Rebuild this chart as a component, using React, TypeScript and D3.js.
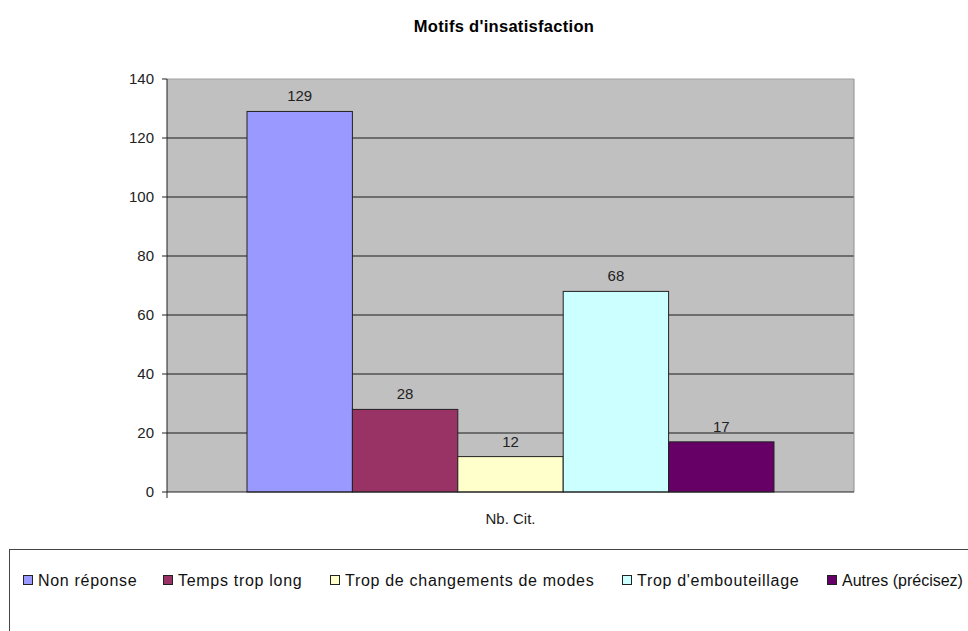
import React from "react";
import * as d3 from "d3";

const title = "Motifs d'insatisfaction";
const categoryLabel = "Nb. Cit.";
const seriesNames = [
  "Non réponse",
  "Temps trop long",
  "Trop de changements de modes",
  "Trop d'embouteillage",
  "Autres (précisez)",
];
const seriesValues = [129, 28, 12, 68, 17];
const seriesColors = ["#9999FF", "#993366", "#FFFFCC", "#CCFFFF", "#660066"];
const yTicks = [0, 20, 40, 60, 80, 100, 120, 140];
const legendX = [23, 163, 330, 622, 827];

export default function App() {
  const W = 968, H = 631;
  const plotL = 167, plotR = 854, plotT = 79, plotB = 492;
  const y = d3.scaleLinear().domain([0, 140]).range([plotB, plotT]);
  const x = d3.scaleBand<string>().domain(seriesNames).range([247, 774]).padding(0);
  const font = "Liberation Sans, Arial, sans-serif";
  return (
    <svg width={W} height={H} style={{ position: "absolute", left: 0, top: 0 }} fontFamily={font}>
      <rect x={0} y={0} width={W} height={H} fill="#fff" />
      <text x={504} y={32} textAnchor="middle" fontWeight="bold" fontSize={16.5} letterSpacing={0.3} fill="#000">{title}</text>
      <rect x={plotL} y={plotT} width={plotR - plotL} height={plotB - plotT} fill="#C0C0C0" />
      {yTicks.map((t) => (
        <g key={t}>
          {t > 0 && t < 140 && <line x1={plotL} x2={plotR} y1={y(t)} y2={y(t)} stroke="#1a1a1a" strokeWidth={1} />}
          <line x1={plotL - 5} x2={plotL} y1={y(t)} y2={y(t)} stroke="#222" />
          <text x={154} y={y(t) + 5} textAnchor="end" fontSize={15} fill="#222">{t}</text>
        </g>
      ))}
      <line x1={plotL} x2={plotR} y1={plotT} y2={plotT} stroke="#a0a0a0" />
      <line x1={plotR} x2={plotR} y1={plotT} y2={plotB} stroke="#909090" />
      {seriesNames.map((s, i) => (
        <g key={s}>
          <rect x={x(s)!} y={y(seriesValues[i])} width={x.bandwidth()} height={plotB - y(seriesValues[i])}
            fill={seriesColors[i]} stroke="#222" strokeWidth={1} />
          <text x={x(s)! + x.bandwidth() / 2} y={y(seriesValues[i]) - 10} textAnchor="middle" fontSize={15} fill="#222">
            {seriesValues[i]}
          </text>
        </g>
      ))}
      <line x1={plotL} x2={plotL} y1={plotT} y2={plotB + 6} stroke="#222" />
      <line x1={plotL} x2={plotR} y1={plotB} y2={plotB} stroke="#222" />
      <text x={510.5} y={524} textAnchor="middle" fontSize={15} fill="#222">{categoryLabel}</text>
      <rect x={9.5} y={549.5} width={1000} height={200} fill="none" stroke="#444" strokeWidth={1} />
      {seriesNames.map((s, i) => (
        <g key={"lg" + s}>
          <rect x={legendX[i] + 0.5} y={575.5} width={9} height={9} fill={seriesColors[i]} stroke="#222" />
          <text x={legendX[i] + 15} y={586} fontSize={16} letterSpacing={i === seriesNames.length - 1 ? 0 : 0.7} fill="#111">{s}</text>
        </g>
      ))}
    </svg>
  );
}
